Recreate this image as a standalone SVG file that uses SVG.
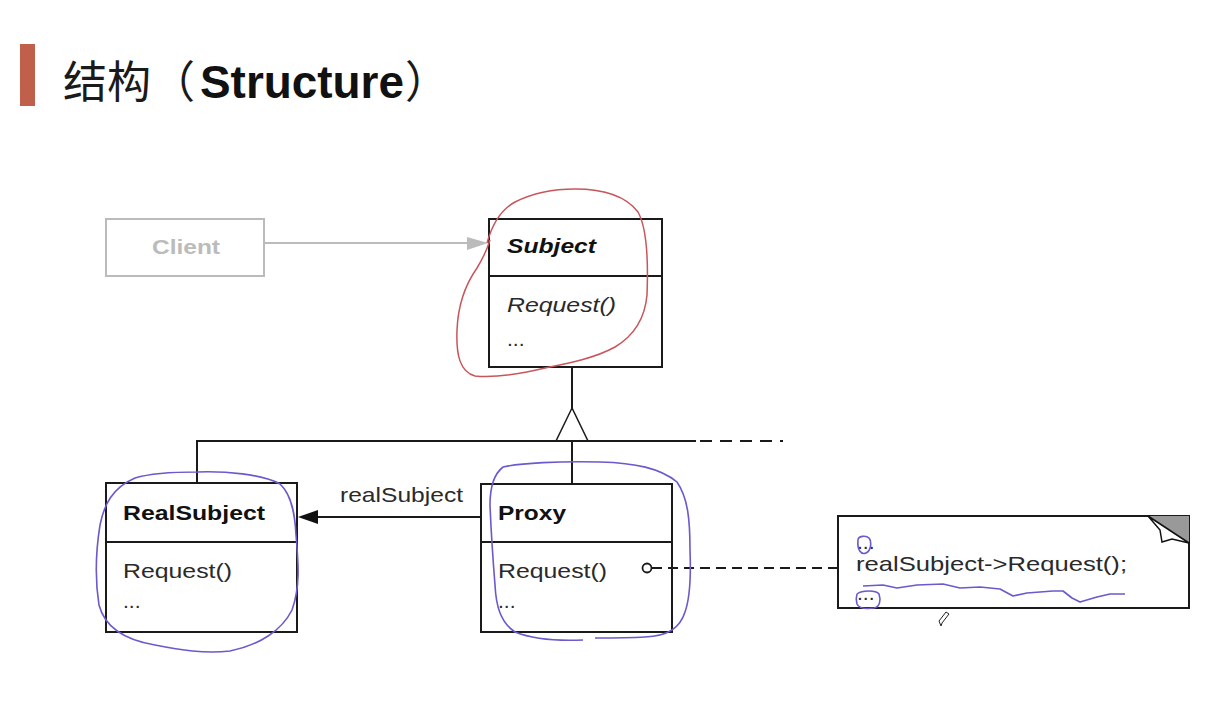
<svg xmlns="http://www.w3.org/2000/svg" width="1220" height="721" viewBox="0 0 1220 721">
<style>
.box{fill:#fff;stroke:#1a1a1a;stroke-width:2}
.ln{fill:none;stroke:#1a1a1a;stroke-width:2}
.t{font-family:"Liberation Sans",Arial,sans-serif;font-size:21px;fill:#2a2a2a}
.b{font-weight:bold;fill:#111}
.i{font-style:italic}
.red{fill:none;stroke:#c8555a;stroke-width:1.5;stroke-linejoin:round}
.blue{fill:none;stroke:#6a5acd;stroke-width:1.6;stroke-linejoin:round}
</style>
<rect width="1220" height="721" fill="#fff"/>
<g id="title">
<rect x="20" y="44" width="15" height="62" fill="#c0604a"/>
<text x="63" y="98" font-family="'Noto Sans CJK SC',sans-serif" font-size="44" fill="#1a1a1a">结构（</text>
<text x="200" y="98" font-family="'Liberation Sans',Arial,sans-serif" font-weight="bold" font-size="46" fill="#111" textLength="204" lengthAdjust="spacingAndGlyphs">Structure</text>
<text x="405" y="98" font-family="'Noto Sans CJK SC',sans-serif" font-size="44" fill="#1a1a1a">）</text>
</g>
<g id="client">
<rect x="106" y="219" width="158" height="57" fill="#fff" stroke="#bbb" stroke-width="2"/>
<text class="t b" x="152" y="254" style="fill:#bbb" textLength="68" lengthAdjust="spacingAndGlyphs">Client</text>
</g>
<g id="subject">
<rect class="box" x="489" y="219" width="173" height="148"/>
<line class="ln" x1="489" y1="276" x2="662" y2="276"/>
<text class="t b i" x="507" y="253" textLength="89" lengthAdjust="spacingAndGlyphs">Subject</text>
<text class="t i" x="507" y="312" textLength="109" lengthAdjust="spacingAndGlyphs">Request()</text>
<text class="t" x="507" y="346">...</text>
</g>
<g id="realsubject">
<rect class="box" x="106" y="483" width="191" height="149"/>
<line class="ln" x1="106" y1="542" x2="297" y2="542"/>
<text class="t b" x="123" y="520" textLength="142" lengthAdjust="spacingAndGlyphs">RealSubject</text>
<text class="t" x="123" y="578" textLength="109" lengthAdjust="spacingAndGlyphs">Request()</text>
<text class="t" x="123" y="608">...</text>
</g>
<g id="proxy">
<rect class="box" x="481" y="484" width="191" height="148"/>
<line class="ln" x1="481" y1="542" x2="672" y2="542"/>
<text class="t b" x="498" y="520" textLength="68" lengthAdjust="spacingAndGlyphs">Proxy</text>
<text class="t" x="498" y="578" textLength="109" lengthAdjust="spacingAndGlyphs">Request()</text>
<text class="t" x="498" y="608">...</text>
</g>
<g id="note">
<rect class="box" x="838" y="516" width="351" height="92"/>
<polygon points="1148,516 1189,516 1189,543" fill="#999"/>
<polygon points="1148,516 1189,543 1172,539 1162,542 1160,530" fill="#fff" stroke="#111" stroke-width="1.5"/>
<text class="t" x="857" y="549">...</text>
<text class="t" x="856" y="571" textLength="271" lengthAdjust="spacingAndGlyphs">realSubject-&gt;Request();</text>
<text class="t" x="857" y="600">...</text>
</g>
<g id="connectors">
<line x1="264" y1="243" x2="470" y2="243" stroke="#bbb" stroke-width="2"/>
<polygon points="488,243 467,237 467,250" fill="#bbb"/>
<polyline class="ln" points="572,368 572,408"/>
<polygon points="572,408 556,441 588,441" fill="#fff" stroke="#1a1a1a" stroke-width="1.5"/>
<polyline class="ln" points="197,483 197,441 696,441"/>
<line x1="700" y1="441" x2="783" y2="441" stroke="#1a1a1a" stroke-width="2" stroke-dasharray="12,8"/>
<line class="ln" x1="572" y1="441" x2="572" y2="484"/>
<line class="ln" x1="481" y1="517" x2="316" y2="517"/>
<polygon points="298,517 318,510 318,524" fill="#111"/>
<text class="t" x="340" y="502" textLength="123" lengthAdjust="spacingAndGlyphs">realSubject</text>
<line class="ln" x1="652" y1="568" x2="662" y2="568"/>
<line x1="668" y1="568" x2="838" y2="568" stroke="#1a1a1a" stroke-width="2" stroke-dasharray="10,6"/>
<circle cx="647" cy="568" r="4.5" fill="#fff" stroke="#1a1a1a" stroke-width="1.8"/>
</g>
<g id="annotations">
<path class="red" d="M487,243 C492,225 500,210 515,202 C535,192 555,189 575,189 C600,189 625,195 638,212 C648,230 648,270 647,295 C645,318 635,335 615,347 C595,358 570,363 545,368 C520,374 495,378 475,376 C460,372 456,355 457,330 C458,305 465,285 477,268 C483,258 487,250 490,240"/>
<path class="blue" d="M197,472 C225,471 262,474 280,484 C292,495 295,515 296,535 C298,560 301,585 292,610 C282,630 260,645 230,651 C205,654 180,650 155,645 C125,640 105,628 99,605 C95,580 96,550 100,525 C104,505 112,488 135,478 C155,472 180,472 197,472"/>
<path class="blue" d="M503,467 C520,463 560,461 600,462 C635,463 660,468 677,482 C688,498 690,520 690,550 C691,575 690,598 685,612 C680,628 668,636 645,637 C628,638 610,638 595,638 M583,640 C560,641 535,640 515,632 C500,622 496,605 495,585 C493,560 491,530 490,505 C490,488 494,474 503,467"/>
<path class="blue" d="M858,540 C858,536 866,535 869,538 C872,542 871,551 866,553 C861,555 857,550 858,540 Z"/>
<path class="blue" d="M857,594 C862,590 876,590 879,594 C881,600 880,607 874,608 C866,609 859,609 857,604 C856,600 856,597 857,594"/>
<path class="blue" d="M863,586 L883,585 L897,588 L917,585 L943,584 L960,588 L980,587 L1000,589 L1013,596 L1027,593 L1053,591 L1063,591 L1072,598 L1080,602 L1097,597 L1110,594 L1125,594"/>
<path d="M941,626 L939,621 L946,612 L949,614 L942,623 Z" fill="#fff" stroke="#222" stroke-width="1"/>
</g>
</svg>
